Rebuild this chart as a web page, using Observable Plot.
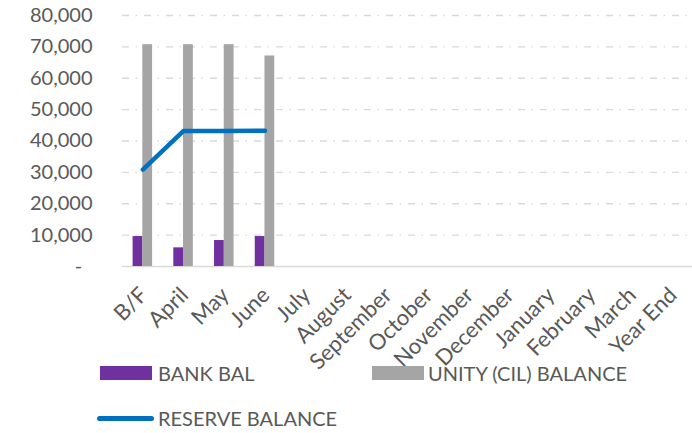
<!DOCTYPE html>
<html>
<head>
<meta charset="utf-8">
<script src="https://cdn.jsdelivr.net/npm/d3@7"></script>
<script src="https://cdn.jsdelivr.net/npm/@observablehq/plot@0.6"></script>
<style>
  body { margin: 0; background: #fff; }
  #wrap { position: relative; width: 692px; height: 433px; font-family: Lato, sans-serif; color: #595959; }
  #chart svg { overflow: visible; }
  .leg { position: absolute; font-size: 20px; line-height: 20px; white-space: nowrap; }
  .sw { position: absolute; }
</style>
</head>
<body>
<div id="wrap">
  <div id="chart"></div>
  <div id="legend"></div>
</div>
<script>
const months = ["B/F","April","May","June","July","August","September","October","November","December","January","February","March","Year End"];
const bankBal = [9550, 5950, 8280, 9550];
const unityBal = [70700, 70700, 70700, 67100];
const reserveBal = [30900, 43200, 43200, 43300];
const yTicks = [0, 10000, 20000, 30000, 40000, 50000, 60000, 70000, 80000];

const seriesNames = ["BANK BAL", "UNITY (CIL) BALANCE", "RESERVE BALANCE"];
const colors = ["#7030A0", "#A5A5A5", "#0070C0"];

const bankData = bankBal.map((v, i) => ({month: months[i], value: v}));
const unityData = unityBal.map((v, i) => ({month: months[i], value: v}));
const reserveData = reserveBal.map((v, i) => ({month: months[i], value: v}));

const fmt = d => d === 0 ? "-\u00a0\u00a0" : d3.format(",")(d);

const plot = Plot.plot({
  width: 692,
  height: 360,
  marginTop: 15,
  marginLeft: 122,
  marginRight: 0,
  marginBottom: 94,
  style: {fontFamily: "Lato, sans-serif", fontSize: "20px", color: "#595959", overflow: "visible"},
  x: {domain: months, padding: 0, round: false, label: null},
  y: {domain: [0, 80000], label: null},
  marks: [
    Plot.ruleY(yTicks.filter(d => d > 0), {stroke: "#d9d9d9", strokeWidth: 1.3, strokeDasharray: "7,6.5,1.5,7"}),
    Plot.ruleY([0], {stroke: "#d9d9d9", strokeWidth: 1.5}),
    Plot.barY(bankData, {x: "month", y: "value", fill: colors[0], insetLeft: 10.6, insetRight: 20.3}),
    Plot.barY(unityData, {x: "month", y: "value", fill: colors[1], insetLeft: 20.3, insetRight: 10.6}),
    Plot.lineY(reserveData, {x: "month", y: "value", stroke: colors[2], strokeWidth: 4.5, strokeLinecap: "round", strokeLinejoin: "round"}),
    Plot.axisY({ticks: yTicks, tickFormat: fmt, tickSize: 0, tickPadding: 30, label: null, fill: "#595959"}),
    Plot.axisX({tickSize: 0, tickRotate: -45, tickPadding: 24, dx: 1, dy: 1, fontSize: 22, label: null, fill: "#595959"})
  ]
});
document.getElementById("chart").appendChild(plot);

const legend = document.getElementById("legend");
const items = [
  {name: seriesNames[0], color: colors[0], type: "rect", sx: 100, sy: 366, sw: 52, sh: 14, tx: 158, ty: 363},
  {name: seriesNames[1], color: colors[1], type: "rect", sx: 372, sy: 366, sw: 52, sh: 14, tx: 428, ty: 363},
  {name: seriesNames[2], color: colors[2], type: "line", sx: 97, sy: 416, sw: 57, sh: 5, tx: 158, ty: 408}
];
for (const it of items) {
  const s = document.createElement("div");
  s.className = "sw";
  s.style.left = it.sx + "px"; s.style.top = it.sy + "px";
  s.style.width = it.sw + "px"; s.style.height = it.sh + "px";
  s.style.background = it.color;
  if (it.type === "line") s.style.borderRadius = "3px";
  legend.appendChild(s);
  const tx = document.createElement("div");
  tx.className = "leg";
  tx.style.left = it.tx + "px"; tx.style.top = it.ty + "px";
  tx.textContent = it.name;
  legend.appendChild(tx);
}
</script>
</body>
</html>
